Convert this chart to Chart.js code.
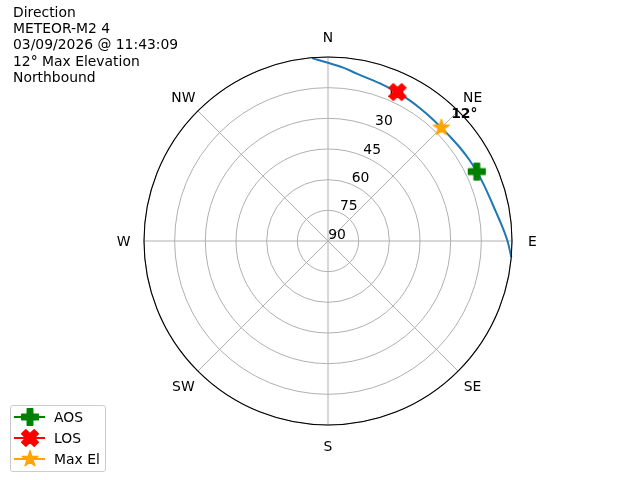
<!DOCTYPE html>
<html>
<head>
<meta charset="utf-8">
<script src="https://cdn.jsdelivr.net/npm/chart.js@4/dist/chart.umd.min.js"></script>
<style>
  body { margin: 0; background: #fff; font-family: 'DejaVu Sans', sans-serif; }
  #wrap { position: relative; width: 640px; height: 480px; overflow: hidden; }
  #polar { position: absolute; left: 0; top: 0; }
  #title { position: absolute; left: 13px; top: 4px; font-size: 13.9px; line-height: 16.2px; color: #000; white-space: pre; }
  #legend { position: absolute; left: 10px; top: 405px; width: 94px; height: 65px; border: 1px solid #cccccc; border-radius: 3px; background: rgba(255,255,255,0.8); }
  .row { position: absolute; left: 0; height: 20px; width: 94px; }
  .row svg { position: absolute; left: 1px; top: 0; }
  .row span { position: absolute; left: 43px; top: 1px; font-size: 13.9px; line-height: 18px; }
</style>
</head>
<body>
<div id="wrap">
  <canvas id="polar" width="640" height="480"></canvas>
  <div id="title">Direction
METEOR-M2 4
03/09/2026 @ 11:43:09
12° Max Elevation
Northbound</div>
  <div id="legend"></div>
</div>
<script>
const directions = ['N', 'NE', 'E', 'SE', 'S', 'SW', 'W', 'NW'];
const elevationTicks = [90, 75, 60, 45, 30, 15];

// pass track: azimuth (deg, clockwise from N) and elevation (deg)
const passAzimuths = [355, 0, 5, 10, 15, 20, 25, 30, 35, 40, 45, 50, 55, 60, 65, 70, 75, 80, 85, 90, 95];
const passElevations = [0.2, 2.8, 4.9, 7.0, 8.3, 9.1, 9.8, 10.4, 11.0, 11.4, 11.6, 11.4, 10.9, 10.3, 9.7, 9.0, 8.1, 6.7, 4.6, 2.2, 0];

const markerNames = ['AOS', 'LOS', 'Max El'];
const markerAzimuths = [65, 25, 45];
const markerElevations = [9.7, 9.6, 11.6];
const markerColors = ['green', 'red', 'orange'];
const markerShapes = ['plus', 'x', 'star'];
const maxElText = '12°';

const STEP = 5; // degrees per radar spoke
const markerSize = 16.7;

const labels = Array.from({ length: 360 / STEP }, (_, i) =>
  i % (45 / STEP) === 0 ? directions[i / (45 / STEP)] : String(i * STEP));

const shapePoints = (shape, size) => {
  if (shape === 'plus') {
    const u = size / 6;
    return [[-1, -3], [-1, -1], [-3, -1], [-3, 1], [-1, 1], [-1, 3], [1, 3], [1, 1], [3, 1], [3, -1], [1, -1], [1, -3]]
      .map(([x, y]) => [x * u, y * u]);
  }
  if (shape === 'x') {
    const u = size / 4;
    return [[-1, -2], [0, -1], [1, -2], [2, -1], [1, 0], [2, 1], [1, 2], [0, 1], [-1, 2], [-2, 1], [-1, 0], [-2, -1]]
      .map(([x, y]) => [x * u, y * u]);
  }
  const pts = [];
  for (let i = 0; i < 10; i++) {
    const rad = (i % 2 ? 0.381966 : 1) * size / 2;
    const a = i * Math.PI / 5;
    pts.push([rad * Math.sin(a), -rad * Math.cos(a)]);
  }
  return pts;
};

const makeMarker = (shape, color) => {
  const c = document.createElement('canvas');
  c.width = c.height = 24;
  const g = c.getContext('2d');
  g.translate(12, 12);
  g.beginPath();
  shapePoints(shape, markerSize).forEach(([x, y], i) => (i ? g.lineTo(x, y) : g.moveTo(x, y)));
  g.closePath();
  g.fillStyle = g.strokeStyle = color;
  g.lineWidth = 1.4;
  g.lineJoin = 'round';
  g.fill();
  g.stroke();
  return c;
};

const spokeData = (azs, els) => {
  const data = new Array(labels.length).fill(null);
  azs.forEach((az, i) => { data[Math.round(az / STEP) % labels.length] = els[i]; });
  return data;
};

const datasets = [
  {
    label: 'pass',
    data: spokeData(passAzimuths, passElevations),
    borderColor: '#1f77b4',
    borderWidth: 2,
    pointRadius: 0,
    fill: false,
    tension: 0.35,
    order: 2
  },
  ...markerNames.map((name, i) => ({
    label: name,
    data: spokeData([markerAzimuths[i]], [markerElevations[i]]),
    showLine: false,
    fill: false,
    pointStyle: makeMarker(markerShapes[i], markerColors[i]),
    pointRadius: 9,
    order: 1
  }))
];

const polarDecor = {
  id: 'polarDecor',
  beforeDatasetsDraw(chart) {
    const { ctx } = chart;
    const r = chart.scales.r;
    ctx.save();
    ctx.font = '13.9px "DejaVu Sans"';
    ctx.fillStyle = '#000';
    ctx.textAlign = 'center';
    ctx.textBaseline = 'middle';
    elevationTicks.forEach((v) => {
      const p = r.getPointPosition(22.5 / STEP, r.getDistanceFromCenterForValue(v));
      ctx.fillText(String(v), p.x + 9, p.y - 5.8);
    });
    directions.forEach((d, i) => {
      const p = r.getPointPosition(i * 45 / STEP, r.drawingArea + 20.5);
      ctx.fillText(d, p.x, p.y + 1.6);
    });
    ctx.restore();
  },
  afterDatasetsDraw(chart) {
    const { ctx } = chart;
    const r = chart.scales.r;
    ctx.save();
    ctx.beginPath();
    ctx.arc(r.xCenter, r.yCenter, r.drawingArea, 0, Math.PI * 2);
    ctx.lineWidth = 1.1;
    ctx.strokeStyle = '#000';
    ctx.stroke();
    const pt = chart.getDatasetMeta(3).data[Math.round(markerAzimuths[2] / STEP)];
    ctx.font = 'bold 13.9px "DejaVu Sans"';
    ctx.fillStyle = '#000';
    ctx.textAlign = 'center';
    ctx.textBaseline = 'middle';
    ctx.fillText(maxElText, pt.x + 23, pt.y - 13.4);
    ctx.restore();
  }
};

new Chart(document.getElementById('polar'), {
  type: 'radar',
  data: { labels, datasets },
  options: {
    responsive: false,
    animation: false,
    layout: { padding: { left: 144, right: 128, top: 57, bottom: 55 } },
    plugins: { legend: { display: false }, tooltip: { enabled: false } },
    scales: {
      r: {
        min: 0,
        max: 90,
        reverse: true,
        startAngle: 0,
        ticks: { display: false, stepSize: 15 },
        grid: { circular: true, color: '#b0b0b0', lineWidth: 1 },
        angleLines: { color: '#b0b0b0', lineWidth: (c) => (c.index % (45 / STEP) === 0 ? 1 : 0) },
        pointLabels: { display: false }
      }
    }
  },
  plugins: [polarDecor]
});

// legend: line with marker, then the name
const legend = document.getElementById('legend');
markerNames.forEach((name, i) => {
  const row = document.createElement('div');
  row.className = 'row';
  row.style.top = (1 + i * 21) + 'px';
  const pts = shapePoints(markerShapes[i], markerSize).map(([x, y]) => `${(x + 18).toFixed(2)},${(y + 10).toFixed(2)}`).join(' ');
  row.innerHTML = `<svg width="36" height="20"><line x1="2" y1="10" x2="33" y2="10" stroke="${markerColors[i]}" stroke-width="2"/>` +
    `<polygon points="${pts}" fill="${markerColors[i]}" stroke="${markerColors[i]}" stroke-width="1.4" stroke-linejoin="round"/></svg>` +
    `<span>${name}</span>`;
  legend.appendChild(row);
});
</script>
</body>
</html>
